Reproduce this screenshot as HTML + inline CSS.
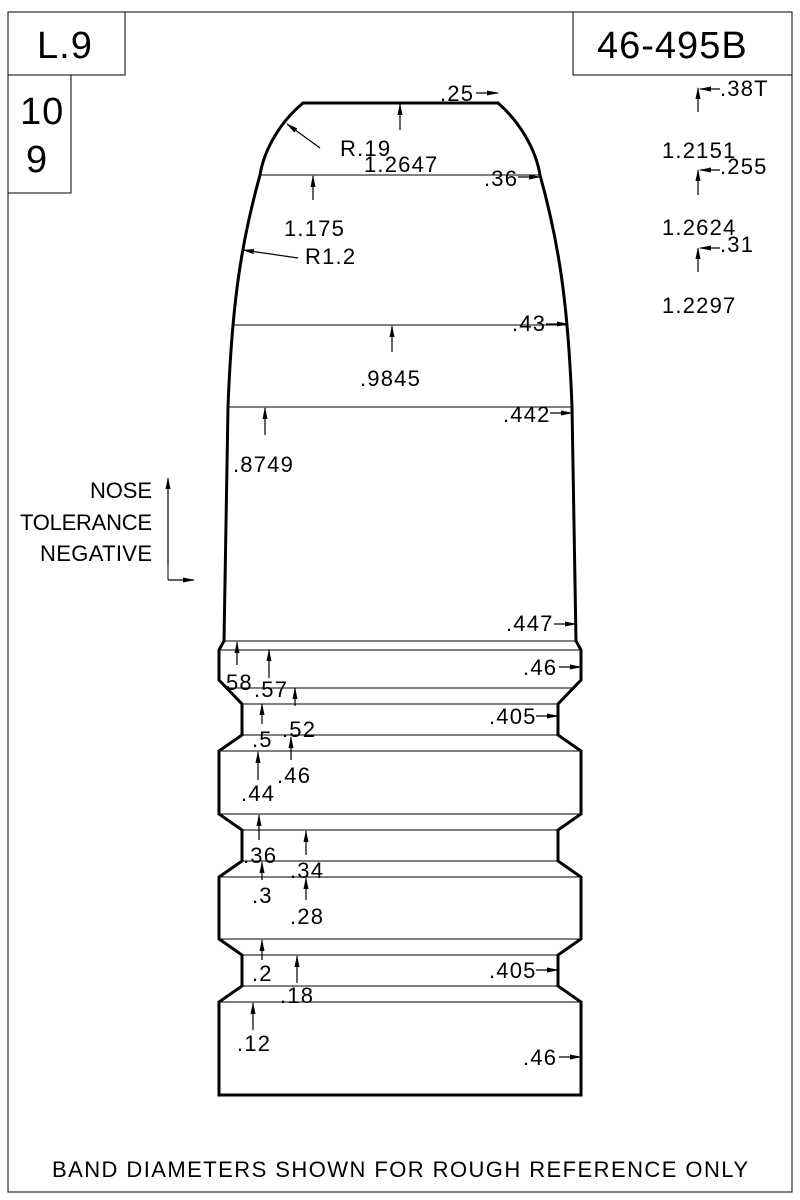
<!DOCTYPE html>
<html><head><style>body{margin:0;background:#fff}svg{display:block}text{font-family:"Liberation Sans",sans-serif;fill:#000}</style></head><body>
<svg width="800" height="1200" viewBox="0 0 800 1200">
<defs><marker id="a" markerWidth="12" markerHeight="5" refX="11" refY="2.5" orient="auto" markerUnits="userSpaceOnUse"><path d="M0,0 L12,2.5 L0,5z"/></marker></defs>
<rect x="8" y="12" width="784" height="1180" fill="none" stroke="#000" stroke-width="1"/>
<rect x="8" y="12" width="117" height="63" fill="none" stroke="#000"/>
<rect x="8" y="75" width="63" height="118" fill="none" stroke="#000"/>
<rect x="573" y="12" width="219" height="63" fill="none" stroke="#000"/>
<g font-size="38" letter-spacing="1">
<text x="37" y="58">L.9</text>
<text x="597" y="58">46-495B</text>
<text x="20" y="124">10</text>
<text x="26" y="172">9</text>
</g>
<g fill="none" stroke="#000" stroke-width="3">
<path d="M303,103 L498,103 C520,122 536,150 540,175 C558,240 568,300 572,407 L576,641 L581,650 L581,680 L558,704 L558,735 L581,751 L581,814 L558,830 L558,861 L581,877 L581,939 L558,955 L558,986 L581,1002 L581,1095 L219,1095 L219,1002 L242,986 L242,955 L219,939 L219,877 L242,861 L242,830 L219,814 L219,751 L242,735 L242,704 L219,680 L219,650 L224,641 L228,407 C232,300 242,240 260,175 C264,150 280,122 303,103 Z"/>
</g>
<g stroke="#000" stroke-width="1">
<line x1="260" y1="175" x2="540" y2="175"/><line x1="232" y1="325" x2="568" y2="325"/><line x1="228" y1="407" x2="572" y2="407"/>
<line x1="224" y1="641" x2="576" y2="641"/><line x1="219" y1="650" x2="581" y2="650"/><line x1="227" y1="688" x2="573" y2="688"/>
<line x1="242" y1="704" x2="558" y2="704"/><line x1="242" y1="735" x2="558" y2="735"/><line x1="219" y1="751" x2="581" y2="751"/>
<line x1="219" y1="814" x2="581" y2="814"/><line x1="242" y1="830" x2="558" y2="830"/><line x1="242" y1="861" x2="558" y2="861"/>
<line x1="219" y1="877" x2="581" y2="877"/><line x1="219" y1="939" x2="581" y2="939"/><line x1="242" y1="955" x2="558" y2="955"/>
<line x1="242" y1="986" x2="558" y2="986"/><line x1="219" y1="1002" x2="581" y2="1002"/>
</g>
<g stroke="#000" stroke-width="1.2" marker-end="url(#a)">
<line x1="476" y1="93" x2="498" y2="93"/>
<line x1="400" y1="130" x2="400" y2="104"/>
<line x1="320" y1="148" x2="287" y2="124"/>
<line x1="313" y1="200" x2="313" y2="176"/>
<line x1="518" y1="177" x2="540" y2="177"/>
<line x1="298" y1="258" x2="243" y2="250"/>
<line x1="546" y1="324" x2="568" y2="324"/>
<line x1="392" y1="352" x2="392" y2="326"/>
<line x1="550" y1="413" x2="572" y2="413"/>
<line x1="265" y1="435" x2="265" y2="408"/>
<line x1="554" y1="624" x2="576" y2="624"/>
<line x1="559" y1="667" x2="581" y2="667"/>
<line x1="536" y1="716" x2="558" y2="716"/>
<line x1="559" y1="1057" x2="581" y2="1057"/>
<line x1="536" y1="970" x2="558" y2="970"/>
<line x1="237" y1="665" x2="237" y2="642"/>
<line x1="269" y1="678" x2="269" y2="650"/>
<line x1="295" y1="706" x2="295" y2="688"/>
<line x1="262" y1="724" x2="262" y2="704"/>
<line x1="291" y1="760" x2="291" y2="737"/>
<line x1="258" y1="780" x2="258" y2="752"/>
<line x1="259" y1="840" x2="259" y2="815"/>
<line x1="306" y1="855" x2="306" y2="831"/>
<line x1="262" y1="880" x2="262" y2="862"/>
<line x1="306" y1="900" x2="306" y2="878"/>
<line x1="262" y1="960" x2="262" y2="940"/>
<line x1="297" y1="983" x2="297" y2="956"/>
<line x1="253" y1="1030" x2="253" y2="1003"/>
<line x1="698" y1="112" x2="698" y2="88"/><line x1="720" y1="89" x2="700" y2="89"/>
<line x1="698" y1="195" x2="698" y2="170"/><line x1="720" y1="170" x2="700" y2="170"/>
<line x1="698" y1="272" x2="698" y2="248"/><line x1="720" y1="248" x2="700" y2="248"/>
<line x1="168" y1="565" x2="168" y2="478"/><line x1="168" y1="580" x2="194" y2="580"/>
</g>
<line x1="168" y1="565" x2="168" y2="580" stroke="#000"/>
<g font-size="22" letter-spacing="1.2">
<text x="440" y="101">.25</text>
<text x="340" y="156">R.19</text>
<text x="364" y="172">1.2647</text>
<text x="484" y="186">.36</text>
<text x="284" y="236">1.175</text>
<text x="305" y="264">R1.2</text>
<text x="512" y="331">.43</text>
<text x="360" y="386">.9845</text>
<text x="503" y="422">.442</text>
<text x="233" y="472">.8749</text>
<text x="506" y="631">.447</text>
<text x="523" y="675">.46</text>
<text x="489" y="724">.405</text>
<text x="489" y="978">.405</text>
<text x="523" y="1065">.46</text>
<text x="226" y="690">58</text><text x="254" y="697">.57</text>
<text x="282" y="737">.52</text><text x="252" y="747">.5</text>
<text x="277" y="783">.46</text><text x="241" y="801">.44</text>
<text x="243" y="863">.36</text><text x="290" y="878">.34</text>
<text x="252" y="903">.3</text><text x="290" y="924">.28</text>
<text x="252" y="981">.2</text><text x="280" y="1003">.18</text>
<text x="237" y="1051">.12</text>
<text x="720" y="96">.38T</text>
<text x="662" y="158">1.2151</text><text x="720" y="174">.255</text>
<text x="662" y="235">1.2624</text><text x="720" y="252">.31</text>
<text x="662" y="313">1.2297</text>
<text x="90" y="498" textLength="62" letter-spacing="0">NOSE</text>
<text x="20" y="530" textLength="132" letter-spacing="0">TOLERANCE</text>
<text x="40" y="561" textLength="112" letter-spacing="0">NEGATIVE</text>
<text x="52" y="1177" textLength="696" letter-spacing="0">BAND DIAMETERS SHOWN FOR ROUGH REFERENCE ONLY</text>
</g>
</svg>
</body></html>
